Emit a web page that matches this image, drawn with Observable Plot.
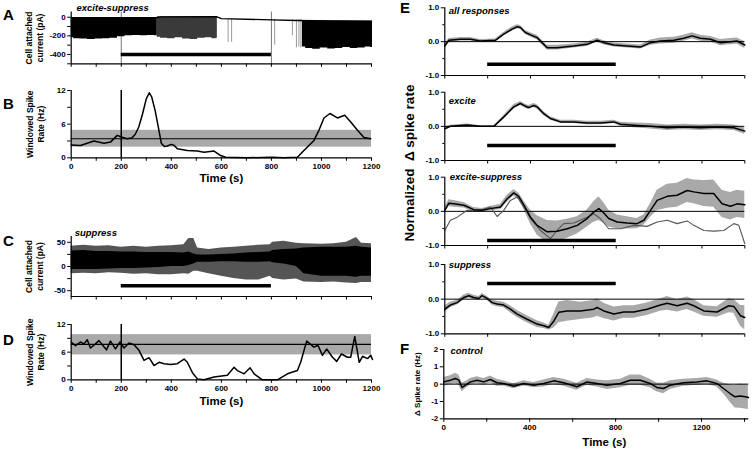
<!DOCTYPE html>
<html><head><meta charset="utf-8">
<script src="https://cdn.jsdelivr.net/npm/d3@7"></script>
<script src="https://cdn.jsdelivr.net/npm/@observablehq/plot@0.6"></script>
<style>
body{margin:0;background:#fff;}
#fig{position:relative;width:753px;height:450px;overflow:hidden;font-family:"Liberation Sans",Arial,sans-serif;background:#fff;}
#fig svg{position:absolute;overflow:visible;background:transparent;}
</style></head><body><div id="fig"></div>
<script>
// ---------------- DATA ----------------
const stim = [200, 800];

// Panel A: cell-attached current (pA), excite-suppress cell
const aBaseT = [0, 340, 360, 580, 600, 800, 900, 1200];
const aBaseV = [-5, -5, 4, 6, -15, -28, -35, -45];
const aDense1T = [0, 20, 50, 80, 110, 140, 170, 200, 230, 260, 290, 320, 344];
const aDense1V = [-220, -230, -235, -240, -235, -230, -225, -210, -200, -195, -200, -195, -200];
const aDense2T = [344, 370, 400, 430, 460, 490, 520, 550, 575, 584];
const aDense2V = [-215, -225, -230, -220, -235, -240, -225, -220, -230, -225];
const aDense3T = [924, 950, 980, 1010, 1040, 1070, 1100, 1130, 1160, 1190, 1204];
const aDense3V = [-320, -335, -345, -330, -340, -335, -325, -335, -330, -320, -325];
const aIsoT = [627, 641, 813, 884, 900, 910, 918];
const aIsoV = [-270, -270, -300, -200, -330, -320, -330];

// Panel B: windowed spike rate (Hz)
const bT = [0, 37, 91, 131, 157, 184, 200, 224, 244, 256, 270, 285, 300, 312, 322, 335, 348, 360, 372, 384, 400, 412, 424, 464, 504, 531, 571, 597, 617, 700, 800, 850, 904, 930, 970, 990, 1010, 1034, 1064, 1093, 1117, 1144, 1170, 1197];
const bV = [2.3, 2.2, 3.0, 2.6, 2.8, 4.0, 3.7, 3.4, 3.6, 4.2, 5.5, 7.8, 10.5, 11.6, 10.8, 8.5, 5.5, 2.6, 2.0, 2.1, 2.4, 2.2, 1.6, 1.3, 1.2, 1.0, 1.2, 0.4, 0.1, 0, 0.1, 0, 0.1, 1.3, 3.1, 4.9, 7.1, 7.9, 7.1, 7.6, 6.4, 4.9, 3.6, 3.4];
const bBand = [1.9, 3.4, 4.9]; // low, mean, high

// Panel C: cell-attached current (pA), suppress cell
const cT = [0, 50, 100, 150, 200, 250, 300, 350, 400, 450, 470, 490, 505, 550, 600, 650, 700, 750, 795, 805, 850, 900, 930, 1000, 1050, 1100, 1140, 1160, 1200];
const cOutHi = [42, 44, 42, 43, 40, 42, 40, 42, 43, 45, 58, 58, 38, 35, 38, 40, 42, 44, 45, 50, 52, 48, 47, 46, 47, 50, 60, 48, 47];
const cOutLo = [-15, -14, -15, -13, -14, -16, -15, -17, -17, -15, -16, -10, -10, -15, -20, -25, -28, -28, -20, -25, -28, -26, -32, -33, -32, -34, -35, -33, -33];
const cCoreHi = [32, 33, 31, 31, 30, 30, 29, 29, 29, 28, 30, 26, 24, 24, 25, 26, 28, 29, 30, 33, 35, 36, 38, 40, 40, 40, 42, 40, 38];
const cCoreLo = [-6, -6, -6, -5, -4, -4, -3, -2, 0, 0, 2, 5, 9, 9, 10, 10, 9, 9, 10, 8, 5, 0, -15, -20, -20, -20, -22, -20, -20];

// Panel D: windowed spike rate (Hz)
const dT = [0, 17, 37, 51, 64, 77, 97, 111, 124, 141, 157, 177, 195, 211, 231, 251, 271, 291, 311, 331, 351, 371, 397, 424, 451, 464, 484, 504, 531, 571, 624, 651, 664, 691, 715, 731, 764, 824, 864, 904, 917, 941, 970, 986, 1004, 1021, 1044, 1061, 1080, 1104, 1117, 1133, 1151, 1164, 1184, 1197, 1204];
const dV = [8.2, 7.4, 8.2, 7.8, 8.7, 6.9, 7.8, 8.5, 7.6, 6.5, 8.4, 6.7, 8.2, 6.9, 8.0, 7.6, 6.4, 4.2, 4.8, 3.1, 3.8, 3.5, 3.3, 3.5, 4.5, 3.8, 1.6, 0.2, 0, 0.6, 1.0, 2.7, 2.0, 1.3, 2.6, 1.3, 0, 0, 1.3, 2.0, 3.8, 8.4, 7.1, 7.5, 5.3, 6.7, 4.9, 4.0, 5.6, 4.9, 4.9, 9.4, 3.8, 5.1, 4.6, 5.3, 4.4];
const dBand = [5.4, 7.7, 9.8];

// Panel E1: all responses
const e1T = [0, 19, 73, 120, 166, 236, 275, 314, 338, 353, 376, 400, 431, 454, 478, 524, 602, 664, 711, 742, 789, 851, 913, 960, 1006, 1069, 1115, 1154, 1193, 1240, 1286, 1333, 1364, 1400];
const e1V = [-0.13, 0.04, 0.07, 0.07, 0.02, 0.04, 0.22, 0.37, 0.44, 0.42, 0.27, 0.2, 0.12, -0.03, -0.18, -0.18, -0.13, -0.08, 0.04, -0.03, -0.1, -0.13, -0.16, -0.03, 0.02, 0.04, 0.1, 0.17, 0.1, 0.07, -0.03, 0, 0.02, -0.1];
const e1E = [0.06, 0.05, 0.05, 0.05, 0.04, 0.04, 0.05, 0.06, 0.06, 0.06, 0.06, 0.06, 0.07, 0.07, 0.07, 0.07, 0.06, 0.06, 0.06, 0.06, 0.06, 0.06, 0.06, 0.08, 0.09, 0.09, 0.09, 0.09, 0.09, 0.08, 0.09, 0.09, 0.09, 0.1];

// Panel E2: excite
const e2T = [0, 26, 104, 166, 229, 275, 322, 353, 376, 392, 415, 431, 462, 493, 540, 602, 664, 726, 789, 820, 882, 960, 1038, 1115, 1193, 1271, 1349, 1400];
const e2V = [-0.07, 0, 0.04, 0, 0, 0.27, 0.57, 0.67, 0.59, 0.55, 0.61, 0.57, 0.37, 0.23, 0.13, 0.13, 0.1, 0.1, 0.13, 0.06, 0.03, 0, -0.04, -0.02, -0.04, -0.02, -0.04, -0.14];
const e2E = [0.05, 0.03, 0.03, 0.02, 0.02, 0.05, 0.06, 0.06, 0.06, 0.06, 0.06, 0.06, 0.06, 0.05, 0.05, 0.05, 0.05, 0.05, 0.05, 0.06, 0.07, 0.08, 0.08, 0.08, 0.08, 0.08, 0.08, 0.09];

// Panel E3: excite-suppress (mean ± sem, plus example cell)
const e3T = [0, 19, 42, 89, 135, 174, 213, 260, 291, 322, 345, 369, 400, 431, 478, 524, 571, 618, 664, 695, 719, 742, 765, 804, 851, 897, 929, 960, 991, 1038, 1084, 1131, 1162, 1209, 1255, 1294, 1333, 1364, 1400];
const e3V = [0.03, 0.24, 0.22, 0.18, 0.05, 0.03, 0.08, 0.13, 0.37, 0.54, 0.44, 0.18, -0.17, -0.41, -0.6, -0.58, -0.51, -0.41, -0.21, -0.02, 0.08, -0.05, -0.21, -0.31, -0.34, -0.36, -0.26, 0.03, 0.32, 0.44, 0.47, 0.61, 0.57, 0.52, 0.52, 0.22, 0.15, 0.22, 0.19];
const e3E = [0.08, 0.1, 0.1, 0.08, 0.06, 0.05, 0.06, 0.08, 0.1, 0.1, 0.1, 0.12, 0.2, 0.28, 0.33, 0.3, 0.28, 0.25, 0.25, 0.3, 0.35, 0.3, 0.25, 0.2, 0.18, 0.15, 0.15, 0.2, 0.3, 0.35, 0.35, 0.35, 0.35, 0.38, 0.4, 0.4, 0.4, 0.4, 0.4];
const e3CellT = [0, 26, 58, 104, 166, 213, 244, 275, 306, 338, 369, 400, 447, 493, 524, 555, 602, 664, 695, 726, 765, 820, 882, 944, 991, 1038, 1084, 1131, 1162, 1209, 1255, 1302, 1349, 1372, 1400];
const e3CellV = [-0.56, -0.26, -0.17, 0.03, 0.03, 0.13, -0.15, 0.03, 0.32, 0.42, 0.13, -0.21, -0.56, -0.8, -0.56, -0.36, -0.34, -0.17, -0.07, -0.21, -0.51, -0.51, -0.41, -0.44, -0.31, -0.26, -0.36, -0.28, -0.41, -0.56, -0.58, -0.56, -0.36, -0.41, -0.95];

// Panel E4: suppress
const e4T = [0, 26, 58, 89, 112, 135, 159, 174, 198, 221, 244, 275, 306, 338, 384, 431, 462, 485, 509, 532, 571, 633, 695, 711, 742, 789, 835, 882, 944, 1006, 1038, 1084, 1131, 1162, 1209, 1271, 1325, 1349, 1380, 1400];
const e4V = [-0.29, -0.17, -0.1, 0.05, 0.1, 0.05, 0.02, 0.1, 0.02, -0.1, -0.14, -0.17, -0.29, -0.43, -0.58, -0.72, -0.77, -0.82, -0.63, -0.38, -0.34, -0.34, -0.29, -0.24, -0.34, -0.43, -0.37, -0.37, -0.29, -0.17, -0.12, -0.19, -0.12, -0.19, -0.34, -0.37, -0.19, -0.21, -0.48, -0.53];
const e4E = [0.1, 0.08, 0.07, 0.07, 0.07, 0.06, 0.06, 0.06, 0.06, 0.07, 0.08, 0.08, 0.1, 0.1, 0.1, 0.1, 0.08, 0.07, 0.2, 0.3, 0.3, 0.25, 0.25, 0.25, 0.22, 0.2, 0.18, 0.18, 0.18, 0.18, 0.2, 0.18, 0.18, 0.18, 0.15, 0.15, 0.2, 0.2, 0.3, 0.35];

// Panel F: control (Δ spike rate, Hz)
const fT = [0, 31, 54, 70, 85, 101, 124, 155, 186, 217, 248, 279, 326, 372, 419, 465, 512, 558, 620, 667, 713, 760, 822, 868, 915, 961, 992, 1023, 1054, 1116, 1178, 1225, 1271, 1302, 1333, 1356, 1380, 1403, 1418];
const fV = [0.13, 0.23, 0.33, 0.23, -0.19, -0.06, 0.13, 0.23, 0.13, 0.27, 0.08, 0.04, -0.12, 0.04, -0.06, 0.04, 0.19, 0.08, -0.15, 0.13, 0.04, -0.06, 0.04, 0.23, 0.23, 0.04, -0.19, -0.25, -0.06, 0.08, 0.13, 0.19, 0.04, -0.25, -0.54, -0.73, -0.69, -0.73, -0.77];
const fE = [0.25, 0.25, 0.3, 0.3, 0.25, 0.2, 0.2, 0.2, 0.2, 0.2, 0.2, 0.15, 0.15, 0.15, 0.15, 0.2, 0.2, 0.2, 0.2, 0.2, 0.2, 0.25, 0.25, 0.3, 0.3, 0.25, 0.25, 0.3, 0.25, 0.2, 0.2, 0.2, 0.2, 0.3, 0.5, 0.65, 0.7, 0.7, 0.7];

// ---------------- HELPERS ----------------
const zip = (t, v, e) => t.map((x, i) => ({t: x, v: v[i], e: e ? e[i] : 0}));
const fig = document.getElementById("fig");
function place(svg, left, top) { svg.style.left = left + "px"; svg.style.top = top + "px"; fig.appendChild(svg); }
const FONT = "Liberation Sans, Arial, sans-serif";
const baseStyle = {fontFamily: FONT, fontSize: "8px", fontWeight: "bold", background: "transparent", overflow: "visible", color: "#000"};
const fmt1 = d => d.toFixed(1);
const GREY = "#a9a9a9";
const TK = 3.5;

function subLabel(text, dx, dy) {
  return Plot.text([text], {text: d => d, frameAnchor: "top-left", dx, dy, textAnchor: "start", lineAnchor: "middle",
    fontStyle: "italic", fontWeight: "bold", fontSize: 9.5});
}
function yLabel(text, dx, size = 8.5) {
  return Plot.text([text], {text: d => d, frameAnchor: "left", rotate: -90, dx, textAnchor: "middle", lineAnchor: "middle",
    fontWeight: "bold", fontSize: size, lineHeight: 1.3});
}
function timeLabel(dy, dx = 0) {
  return Plot.text(["Time (s)"], {text: d => d, frameAnchor: "bottom", dy, dx, lineAnchor: "middle", fontWeight: "bold", fontSize: 11.5});
}
const xTicksLeft = (labels) => Plot.axisX({ticks: d3.range(0, 1201, 100), tickSize: TK, tickPadding: 2,
  tickFormat: d => labels && d % 200 === 0 ? String(d) : "", label: null});

// ---------------- PANEL A ----------------
place(Plot.plot({
  width: 390, height: 75, marginLeft: 70.7, marginRight: 19, marginTop: 11.6, marginBottom: 11.7,
  x: {domain: [0, 1200]}, y: {domain: [-500, 55]}, style: baseStyle,
  marks: [
    Plot.ruleX(stim, {stroke: "#777", strokeWidth: 1}),
    Plot.areaY(zip(aDense1T, aDense1V), {x: "t", y1: () => -5, y2: "v", fill: "#000", curve: "step"}),
    Plot.areaY(zip(aDense2T, aDense2V), {x: "t", y1: () => 4, y2: "v", fill: "#3a3a3a", curve: "step"}),
    Plot.areaY(zip(aDense3T, aDense3V), {x: "t", y1: () => -40, y2: "v", fill: "#000", curve: "step"}),
    Plot.ruleX(zip(aIsoT, aIsoV), {x: "t", y1: () => -25, y2: "v", stroke: "#999", strokeWidth: 1}),
    Plot.line(zip(aBaseT, aBaseV), {x: "t", y: "v", stroke: "#000", strokeWidth: 1.4}),
    Plot.ruleY([{x1: stim[0], x2: stim[1], y: -400}], {x1: "x1", x2: "x2", y: "y", strokeWidth: 3.5}),
    Plot.ruleX([0], {strokeWidth: 1.2}), Plot.ruleY([-500], {strokeWidth: 1.2}),
    Plot.axisY({ticks: [0, -200, -400], tickFormat: d => String(d), tickSize: TK, tickPadding: 2, label: null}),
    Plot.axisY({ticks: [-100, -300, -500], tickFormat: () => "", tickSize: TK, label: null}),
    xTicksLeft(false),
    subLabel("excite-suppress", 5.3, -4.3),
    yLabel("Cell attached\ncurrent (pA)", -37)
  ]
}), 0, 0);

// ---------------- PANEL B ----------------
place(Plot.plot({
  width: 390, height: 110, marginLeft: 70.7, marginRight: 19, marginTop: 10, marginBottom: 32.7,
  x: {domain: [0, 1200]}, y: {domain: [0, 12]}, style: baseStyle,
  marks: [
    Plot.rect([{x1: 0, x2: 1200, y1: bBand[0], y2: bBand[2]}], {x1: "x1", x2: "x2", y1: "y1", y2: "y2", fill: GREY}),
    Plot.ruleY([{x1: 0, x2: 1200, y: bBand[1]}], {x1: "x1", x2: "x2", y: "y", strokeWidth: 1.2}),
    Plot.ruleX([stim[0]], {strokeWidth: 1.5}),
    Plot.line(zip(bT, bV), {x: "t", y: "v", strokeWidth: 1.5}),
    Plot.ruleX([0], {strokeWidth: 1.2}), Plot.ruleY([0], {strokeWidth: 1.2}),
    Plot.axisY({ticks: [0, 6, 12], tickSize: TK, tickPadding: 2, label: null}),
    Plot.axisY({ticks: [3, 9], tickFormat: () => "", tickSize: TK, label: null}),
    xTicksLeft(true),
    timeLabel(20.7),
    yLabel("Windowed Spike\nRate (Hz)", -36)
  ]
}), 0, 80);

// ---------------- PANEL C ----------------
const cData = cT.map((t, i) => ({t, oh: cOutHi[i], ol: cOutLo[i], ch: cCoreHi[i], cl: cCoreLo[i]}));
place(Plot.plot({
  width: 390, height: 80, marginLeft: 70.7, marginRight: 19, marginTop: 11, marginBottom: 9,
  x: {domain: [0, 1200]}, y: {domain: [-62, 62]}, style: baseStyle,
  marks: [
    Plot.areaY(cData, {x: "t", y1: "ol", y2: "oh", fill: "#555"}),
    Plot.areaY(cData, {x: "t", y1: "cl", y2: "ch", fill: "#000"}),
    Plot.ruleY([{x1: stim[0], x2: stim[1], y: -40}], {x1: "x1", x2: "x2", y: "y", strokeWidth: 3.5}),
    Plot.ruleX([0], {strokeWidth: 1.2}), Plot.ruleY([-62], {strokeWidth: 1.2}),
    Plot.axisY({ticks: [50, 0, -50], tickFormat: d => String(d), tickSize: TK, tickPadding: 2, label: null}),
    Plot.axisY({ticks: [25, -25], tickFormat: () => "", tickSize: TK, label: null}),
    xTicksLeft(false),
    subLabel("suppress", 3.5, -3.3),
    yLabel("Cell attached\ncurrent (pA)", -37)
  ]
}), 0, 225);

// ---------------- PANEL D ----------------
place(Plot.plot({
  width: 390, height: 100, marginLeft: 70.7, marginRight: 19, marginTop: 12, marginBottom: 32.7,
  x: {domain: [0, 1200]}, y: {domain: [0, 12]}, style: baseStyle,
  marks: [
    Plot.rect([{x1: 0, x2: 1200, y1: dBand[0], y2: dBand[2]}], {x1: "x1", x2: "x2", y1: "y1", y2: "y2", fill: GREY}),
    Plot.ruleY([{x1: 0, x2: 1200, y: dBand[1]}], {x1: "x1", x2: "x2", y: "y", strokeWidth: 1.2}),
    Plot.ruleX([stim[0]], {strokeWidth: 1.5}),
    Plot.line(zip(dT, dV), {x: "t", y: "v", strokeWidth: 1.5}),
    Plot.ruleX([0], {strokeWidth: 1.2}), Plot.ruleY([0], {strokeWidth: 1.2}),
    Plot.axisY({ticks: [0, 6, 12], tickSize: TK, tickPadding: 2, label: null}),
    Plot.axisY({ticks: [3, 9], tickFormat: () => "", tickSize: TK, label: null}),
    xTicksLeft(true),
    timeLabel(21.5),
    yLabel("Windowed Spike\nRate (Hz)", -36)
  ]
}), 0, 312);

// ---------------- PANELS E ----------------
function ePanel({top, height, mt, mb, data, bar, label, ldx, ldy, extra = []}) {
  place(Plot.plot({
    width: 358, height, marginLeft: 49.3, marginRight: 8.7, marginTop: mt, marginBottom: mb,
    x: {domain: [0, 1400]}, y: {domain: [-1, 1]}, style: baseStyle,
    marks: [
      Plot.areaY(data, {x: "t", y1: d => d.v - d.e, y2: d => d.v + d.e, fill: GREY}),
      Plot.ruleY([0], {strokeWidth: 1}),
      ...extra,
      Plot.line(data, {x: "t", y: "v", strokeWidth: 1.5}),
      Plot.ruleY([{x1: stim[0], x2: stim[1], y: bar}], {x1: "x1", x2: "x2", y: "y", strokeWidth: 3.5}),
      Plot.ruleX([0], {strokeWidth: 1.2}), Plot.ruleY([-1], {strokeWidth: 1.2}),
      Plot.axisY({ticks: [-1, 0, 1], tickFormat: fmt1, tickSize: TK, tickPadding: 2, label: null}),
      Plot.axisY({ticks: [-0.5, 0.5], tickFormat: () => "", tickSize: 2, label: null}),
      Plot.axisX({ticks: d3.range(0, 1401, 200), tickFormat: () => "", tickSize: TK, label: null}),
      subLabel(label, ldx, ldy)
    ]
  }), 395, top);
}
ePanel({top: 0, height: 80, mt: 7.3, mb: 5, data: zip(e1T, e1V, e1E), bar: -0.67, label: "all responses", ldx: 4, ldy: 2.7});
ePanel({top: 84, height: 80, mt: 7.7, mb: 4, data: zip(e2T, e2V, e2E), bar: -0.56, label: "excite", ldx: 4, ldy: 8.3});
ePanel({top: 169, height: 80, mt: 7.7, mb: 4, data: zip(e3T, e3V, e3E), bar: -0.85, label: "excite-suppress", ldx: 5, ldy: 0,
  extra: [Plot.line(zip(e3CellT, e3CellV), {x: "t", y: "v", stroke: "#555", strokeWidth: 1.1})]});
ePanel({top: 256, height: 82, mt: 8, mb: 4.7, data: zip(e4T, e4V, e4E), bar: 0.45, label: "suppress", ldx: 4, ldy: 0});

// ---------------- PANEL F ----------------
place(Plot.plot({
  width: 358, height: 110, marginLeft: 48.3, marginRight: 4.7, marginTop: 9, marginBottom: 31.7,
  x: {domain: [0, 1420]}, y: {domain: [-2, 2]}, style: baseStyle,
  marks: [
    Plot.areaY(zip(fT, fV, fE), {x: "t", y1: d => d.v - d.e, y2: d => d.v + d.e, fill: GREY}),
    Plot.ruleY([0], {strokeWidth: 1}),
    Plot.line(zip(fT, fV), {x: "t", y: "v", strokeWidth: 1.5}),
    Plot.ruleX([0], {strokeWidth: 1.2}), Plot.ruleY([-2], {strokeWidth: 1.2}),
    Plot.axisY({ticks: [-2, -1, 0, 1, 2], tickFormat: d => String(d), tickSize: TK, tickPadding: 2, label: null}),
    Plot.axisX({ticks: d3.range(0, 1401, 200), tickFormat: d => d % 400 === 0 ? String(d) : "", tickSize: TK, tickPadding: 2, label: null}),
    timeLabel(23.4, 8),
    subLabel("control", 6.7, 1),
    yLabel("\u0394 Spike rate (Hz)", -27, 8)
  ]
}), 395, 340);

// ---------------- PANEL LETTERS & E LABEL ----------------
const ov = d3.create("svg").attr("width", 753).attr("height", 450)
  .style("left", "0px").style("top", "0px").style("pointer-events", "none")
  .attr("font-family", FONT).attr("font-weight", "bold");
const letters = [["A", 3, 15], ["B", 3, 104], ["C", 3, 241], ["D", 3, 340], ["E", 400, 8], ["F", 400, 349]];
ov.selectAll("text.l").data(letters).join("text").attr("class", "l")
  .attr("x", d => d[1]).attr("y", d => d[2]).attr("dy", "0.36em").attr("font-size", 15).text(d => d[0]);
ov.append("text").attr("transform", "translate(409,163) rotate(-90)").attr("text-anchor", "middle")
  .attr("dy", "0.36em").attr("font-size", 13.5).attr("xml:space", "preserve").style("white-space", "pre")
  .text("Normalized  \u0394 spike rate");
fig.appendChild(ov.node());
</script></body></html>
